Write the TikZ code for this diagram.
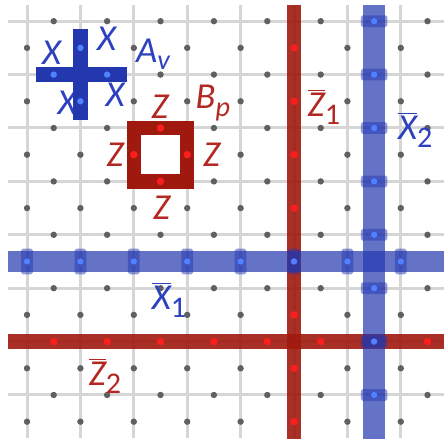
\documentclass[tikz,border=0pt]{standalone}
\usepackage{fontspec}
\setmainfont{Carlito}
\usetikzlibrary{positioning}
\definecolor{opblue}{RGB}{35,55,175}
\definecolor{opred}{RGB}{160,25,15}
\definecolor{qbred}{RGB}{250,30,30}
\definecolor{qbblue}{RGB}{80,130,255}
\definecolor{txblue}{RGB}{45,65,190}
\definecolor{txred}{RGB}{180,40,35}
\newcommand{\lsub}[2]{#1\raisebox{-0.45ex}{\fontsize{15}{15}\selectfont #2}}
\newcommand{\lbar}[2]{$\overline{\mbox{#1}}$\raisebox{-0.45ex}{\fontsize{16}{16}\selectfont\upshape #2}}

\begin{document}
\begin{tikzpicture}[
  font=\fontsize{19.5}{22}\selectfont\itshape,
  lat/.style={draw=gray!32, line width=1.6pt},
  qb/.style={circle, fill=gray!75!black, inner sep=0pt, minimum size=0.12cm},
  zq/.style={circle, fill=qbred, inner sep=0pt, minimum size=0.14cm},
  xq/.style={circle, fill=qbblue, inner sep=0pt, minimum size=0.12cm},
  zstr/.style={draw=opred, draw opacity=0.9, line width=0.28cm},
  xstr/.style={draw=opblue, draw opacity=0.7, line width=0.4cm},
  xblk/.style={fill=opblue, fill opacity=0.5, rounded corners=1pt},
  xlab/.style={text=txblue, inner sep=0pt},
  zlab/.style={text=txred, inner sep=0pt}
]
\useasboundingbox (-0.506,-0.918) rectangle (7.865,7.397);

% lattice
\foreach \i in {0,...,7} {
  \draw[lat] (-0.36,\i) -- (7.81,\i);
  \draw[lat] (\i,-0.81) -- (\i,7.30);
}
\foreach \i in {0,...,7} {
  \foreach \j in {0,...,7} {
    \node[qb] at (\i+0.5,\j) {};
    \node[qb] at (\i,\j-0.5) {};
  }
}

% star operator A_v
\node[xlab] (xa) at (0.46,6.40) {X};
\node[xlab] (xb) at (1.49,6.68) {X};
\node[xlab] (xc) at (0.75,5.47) {X};
\node[xlab] (xd) at (1.65,5.62) {X};
\node[xlab] (av) at (2.36,6.38) {\lsub{A}{v}};
\draw[draw=opblue, line width=0.28cm] (0.17,6) -- (1.87,6) (1,5.15) -- (1,6.86);
\foreach \p in {(0.5,6),(1.5,6),(1,6.5),(1,5.5)}
  \node[xq] at \p {};

% plaquette operator B_p
\draw[draw=opred, line width=0.27cm] (2,4) rectangle (3,5);
\foreach \p in {(2.5,5),(2.5,4),(2,4.5),(3,4.5)}
  \node[zq] at \p {};
\node[zlab] (za) at (2.49,5.39) {Z};
\node[zlab] (zb) at (1.65,4.49) {Z};
\node[zlab] (zc) at (3.46,4.49) {Z};
\node[zlab] (zd) at (2.52,3.50) {Z};
\node[zlab] (bp) at (3.48,5.47) {\lsub{B}{p}};

% logical Z strings
\draw[zstr] (5,-0.82) -- (5,7.30);
\draw[zstr] (-0.36,1) -- (7.81,1);
\foreach \j in {0,...,7}
  \node[zq] at (5,\j-0.5) {};
\foreach \i in {0,...,7}
  \node[zq] at (\i+0.5,1) {};

% logical X strings
\draw[xstr] (6.5,-0.82) -- (6.5,7.30);
\draw[xstr] (-0.36,2.5) -- (7.81,2.5);
\foreach \j in {0,...,7} {
  \fill[xblk] (6.25,\j-0.11) rectangle (6.75,\j+0.11);
  \node[xq] at (6.5,\j) {};
}
\foreach \i in {0,...,7} {
  \fill[xblk] (\i-0.11,2.26) rectangle (\i+0.11,2.74);
  \node[xq] at (\i,2.5) {};
}

% labels
\node[zlab] (z1) at (5.56,5.39) {\lbar{Z}{1}};
\node[xlab] (x2) at (7.27,4.96) {\lbar{X}{2}};
\node[xlab] (x1) at (2.66,1.78) {\lbar{X}{1}};
\node[zlab] (z2) at (1.46,0.36) {\lbar{Z}{2}};
\end{tikzpicture}
\end{document}
